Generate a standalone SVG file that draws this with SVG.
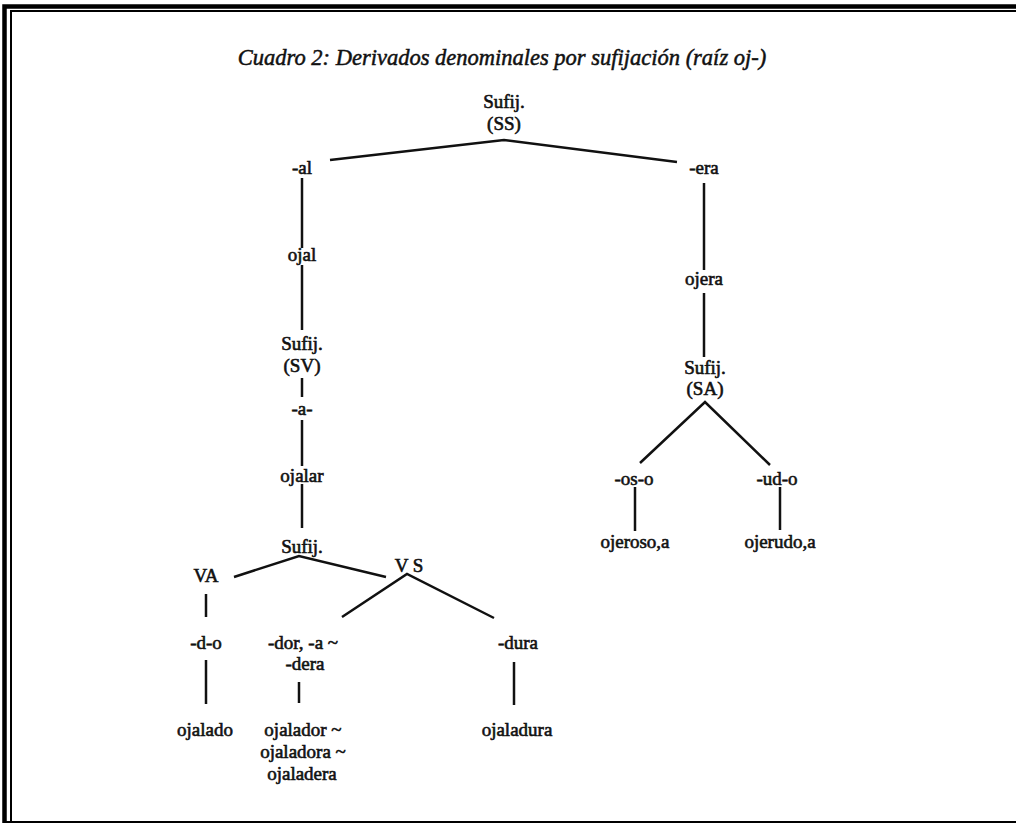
<svg xmlns="http://www.w3.org/2000/svg" width="1016" height="823" viewBox="0 0 1016 823">
  <style>
    .t { font-family: "Liberation Serif", "Times New Roman", serif; font-size: 19px; fill: #111; stroke: #111; stroke-width: 0.6; text-anchor: middle; }
    .title { font-family: "Liberation Serif", "Times New Roman", serif; font-size: 22.5px; font-style: italic; fill: #111; stroke: #111; stroke-width: 0.5; text-anchor: middle; }
    .edge { stroke: #111; stroke-width: 2.5; fill: none; stroke-linecap: butt; }
    .frame { stroke: #000; fill: none; }
  </style>

  <rect x="0" y="0" width="1016" height="823" fill="#fff"/>

  <!-- page frame: heavy outer rule with a thin inner rule -->
  <g id="frame">
    <path class="frame" stroke-width="4.5" d="M4.5,823 V6.5 H1016"/>
    <path class="frame" stroke-width="2" d="M11,823 V11 H1016"/>
    <path class="frame" stroke-width="2" d="M4,822 H1016"/>
  </g>

  <text class="title" x="502" y="65">Cuadro 2: Derivados denominales por sufijación (raíz oj-)</text>

  <!-- tree branches -->
  <g id="connectors">
    <polyline class="edge" points="330,160 504,140 677,162"/>
    <line class="edge" x1="302" y1="178" x2="302" y2="248"/>
    <line class="edge" x1="302" y1="265" x2="302" y2="330"/>
    <line class="edge" x1="302" y1="378" x2="302" y2="397"/>
    <line class="edge" x1="302" y1="420" x2="302" y2="466"/>
    <line class="edge" x1="302" y1="484" x2="302" y2="528"/>
    <polyline class="edge" points="234,577 299,556 386,577"/>
    <line class="edge" x1="206" y1="594" x2="206" y2="617"/>
    <polyline class="edge" points="342,617 407,574 494,618"/>
    <line class="edge" x1="206" y1="660" x2="206" y2="704"/>
    <line class="edge" x1="299" y1="682" x2="299" y2="703"/>
    <line class="edge" x1="514" y1="662" x2="514" y2="705"/>
    <line class="edge" x1="704" y1="183" x2="704" y2="270"/>
    <line class="edge" x1="704" y1="293" x2="704" y2="357"/>
    <polyline class="edge" points="640,463 705,402 770,465"/>
    <line class="edge" x1="635" y1="487" x2="635" y2="531"/>
    <line class="edge" x1="780" y1="487" x2="780" y2="530"/>
  </g>

  <g id="n-root"><text class="t" x="504" y="108">Sufij.</text><text class="t" x="504" y="130">(SS)</text></g>
  <g id="n-al"><text class="t" x="302" y="174">-al</text></g>
  <g id="n-era"><text class="t" x="704" y="174">-era</text></g>
  <g id="n-ojal"><text class="t" x="302" y="261">ojal</text></g>
  <g id="n-sv"><text class="t" x="302" y="350">Sufij.</text><text class="t" x="302" y="372">(SV)</text></g>
  <g id="n-a"><text class="t" x="302" y="415">-a-</text></g>
  <g id="n-ojalar"><text class="t" x="302" y="482">ojalar</text></g>
  <g id="n-sufij"><text class="t" x="302" y="553">Sufij.</text></g>
  <g id="n-va"><text class="t" x="206" y="582">VA</text></g>
  <g id="n-vs"><text class="t" x="409" y="572">V S</text></g>
  <g id="n-do"><text class="t" x="206" y="649">-d-o</text></g>
  <g id="n-dor"><text class="t" x="303" y="649">-dor, -a ~</text><text class="t" x="305" y="670">-dera</text></g>
  <g id="n-dura"><text class="t" x="518" y="649">-dura</text></g>
  <g id="n-ojalado"><text class="t" x="205" y="736">ojalado</text></g>
  <g id="n-ojalador"><text class="t" x="303" y="736">ojalador ~</text><text class="t" x="303" y="758">ojaladora ~</text><text class="t" x="302" y="780">ojaladera</text></g>
  <g id="n-ojaladura"><text class="t" x="517" y="736">ojaladura</text></g>
  <g id="n-ojera"><text class="t" x="704" y="285">ojera</text></g>
  <g id="n-sa"><text class="t" x="705" y="374">Sufij.</text><text class="t" x="705" y="395">(SA)</text></g>
  <g id="n-oso"><text class="t" x="634" y="485">-os-o</text></g>
  <g id="n-udo"><text class="t" x="777" y="485">-ud-o</text></g>
  <g id="n-ojeroso"><text class="t" x="635" y="548">ojeroso,a</text></g>
  <g id="n-ojerudo"><text class="t" x="780" y="548">ojerudo,a</text></g>
</svg>
